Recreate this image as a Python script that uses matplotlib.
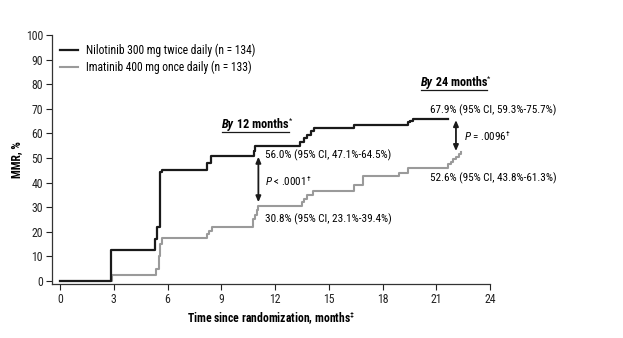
import matplotlib
matplotlib.use('Agg')
import matplotlib.pyplot as plt
from matplotlib.lines import Line2D

plt.rcParams['font.family'] = ['Roboto Condensed', 'DejaVu Sans']
plt.rcParams['mathtext.fontset'] = 'custom'
plt.rcParams['mathtext.rm'] = 'Roboto Condensed'
plt.rcParams['mathtext.it'] = 'Roboto Condensed:italic'
plt.rcParams['mathtext.bf'] = 'Roboto Condensed:bold'

# step data (months, MMR %)
nilo_t = [0, 2.85, 5.3, 5.4, 5.58, 5.71, 8.18, 8.4, 10.83, 10.9, 13.4, 13.6, 13.8,
          14.0, 14.2, 16.4, 19.4, 19.55, 19.7, 21.65]
nilo_v = [0, 12.5, 17, 22, 44.5, 45, 48, 51, 53, 55, 56.5, 58, 59.5,
          61, 62, 63.5, 64.5, 65, 66, 66]

ima_t = [0, 2.88, 5.36, 5.5, 5.6, 5.71, 8.18, 8.3, 8.46, 10.79, 10.9, 11.0, 11.07,
         13.49, 13.6, 13.8, 14.1, 16.4, 16.9, 18.9, 19.4, 21.65, 21.8, 21.95,
         22.1, 22.25, 22.4]
ima_v = [0, 2.5, 5, 10, 15, 17.5, 19, 20.5, 22, 25, 27, 29, 30.5,
         32, 33.5, 35, 36.5, 39, 42.5, 44, 46, 47.5, 48.5, 49.5,
         50.5, 51.5, 52.6]

labels = ['Nilotinib 300 mg twice daily (n = 134)', 'Imatinib 400 mg once daily (n = 133)']
xticks = [0, 3, 6, 9, 12, 15, 18, 21, 24]
yticks = list(range(0, 101, 10))

fig = plt.figure(figsize=(6.23, 3.38), dpi=100)
ax = fig.add_axes([0.0835, 0.16, 0.703, 0.7365])

l1, = ax.step(nilo_t, nilo_v, where='post', color='#1a1a1a', lw=1.6, label=labels[0], zorder=3)
l2, = ax.step(ima_t, ima_v, where='post', color='#9a9a9a', lw=1.5, label=labels[1], zorder=2)

ax.set_xlim(-0.45, 24)
ax.set_ylim(-1.2, 100)
ax.set_xticks(xticks)
ax.set_yticks(yticks)
ax.tick_params(labelsize=8.5, length=4, width=0.8, pad=2.5, colors='#222222')
for s in ['top', 'right']:
    ax.spines[s].set_visible(False)
for s in ['left', 'bottom']:
    ax.spines[s].set_color('#333333')
    ax.spines[s].set_linewidth(0.9)

ax.set_ylabel('MMR, %', fontsize=8.5, fontweight='bold', labelpad=2)
ax.set_xlabel('Time since randomization, months$^{‡}$', fontsize=8.5, fontweight='bold', labelpad=3)

ax.legend(handles=[l1, l2], loc='upper left', bbox_to_anchor=(0.008, 0.985), frameon=False,
          fontsize=8.3, handlelength=1.55, handletextpad=0.7, labelspacing=0.35,
          borderaxespad=0)

# arrows between the curves
arrow = dict(arrowstyle='<|-|>,head_length=0.35,head_width=0.15', color='#1a1a1a', lw=1.3,
             shrinkA=0, shrinkB=0)
ax.annotate('', xy=(11.07, 32), xytext=(11.07, 50.5), arrowprops=arrow)
ax.annotate('', xy=(22.1, 52.8), xytext=(22.1, 65.4), arrowprops=arrow)

fs = 8
ax.text(11.45, 51.2, '56.0% (95% CI, 47.1%-64.5%)', fontsize=fs, va='center')
ax.text(11.45, 40.6, '$P$ < .0001$^{†}$', fontsize=fs, va='center')
ax.text(11.45, 25.2, '30.8% (95% CI, 23.1%-39.4%)', fontsize=fs, va='center')
ax.text(20.65, 69.5, '67.9% (95% CI, 59.3%-75.7%)', fontsize=fs, va='center')
ax.text(22.55, 59.0, '$P$ = .0096$^{†}$', fontsize=fs, va='center')
ax.text(20.65, 41.9, '52.6% (95% CI, 43.8%-61.3%)', fontsize=fs, va='center')


def heading(x, y, months):
    t1 = ax.text(x, y, 'By', fontsize=8.8, fontweight='bold', style='italic', va='baseline')
    t2 = ax.annotate(' %d months' % months, xy=(1, 0), xycoords=t1, fontsize=8.8,
                     fontweight='bold', va='bottom')
    t3 = ax.annotate('*', xy=(1, 0.55), xycoords=t2, fontsize=5.5, va='bottom')
    return t1, t2, t3


h12 = heading(9.05, 62.2, 12)
h24 = heading(20.13, 79.3, 24)

fig.canvas.draw()
r = fig.canvas.get_renderer()
for t1, t2, t3 in [h12, h24]:
    b1 = t1.get_window_extent(r)
    b2 = t2.get_window_extent(r)
    yb = b1.y0 - 1.0
    fig.add_artist(Line2D([b1.x0, b2.x1], [yb, yb], transform=None, color='#1a1a1a', lw=0.9))

fig.savefig('out.png', dpi=100)
